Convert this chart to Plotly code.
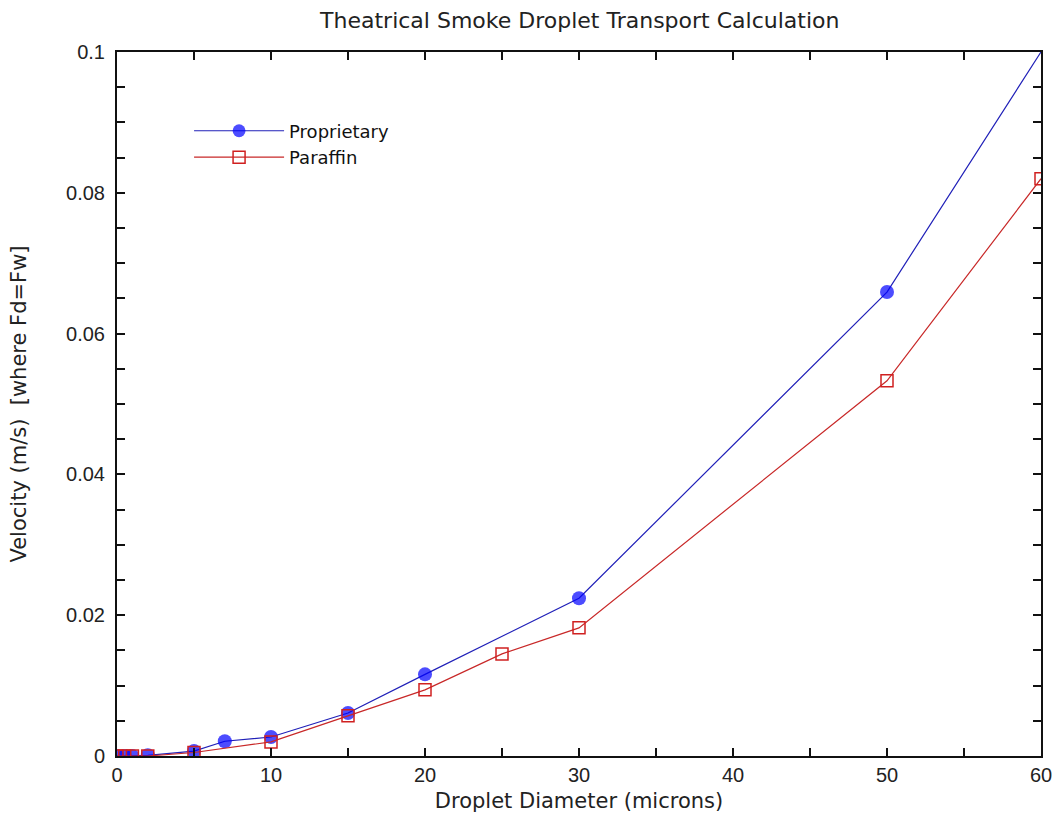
import plotly.graph_objects as go

prop_x = [0, 0.5, 1, 2, 5, 7, 10, 15, 20, 30, 50, 60]
prop_y = [0.0, 0.0, 0.0, 0.0001, 0.0007, 0.0021, 0.0027, 0.0061, 0.0116, 0.0224, 0.0659, 0.1]

par_x = [0, 0.5, 1, 2, 5, 10, 15, 20, 25, 30, 50, 60]
par_y = [0.0, 0.0, 0.0, 0.0, 0.0005, 0.002, 0.0057, 0.0094, 0.0145, 0.0182, 0.0533, 0.082]

title = "Theatrical Smoke Droplet Transport Calculation"
x_title = "Droplet Diameter (microns)"
y_title = "Velocity (m/s)  [where Fd=Fw]"

wide_font = "DejaVu Sans, Verdana, sans-serif"
tick_font = "Liberation Sans, Arial, Helvetica, sans-serif"

fig = go.Figure()
prop_sizes = [14] * (len(prop_x) - 1) + [0]
fig.add_trace(go.Scatter(
    x=prop_x, y=prop_y, name="Proprietary", mode="lines+markers",
    line=dict(color="#2020b8", width=1.2),
    marker=dict(symbol="circle", size=prop_sizes, color="#0000ff",
                line=dict(width=0)),
))
fig.add_trace(go.Scatter(
    x=par_x, y=par_y, name="Paraffin", mode="lines+markers",
    line=dict(color="#c82828", width=1.2),
    marker=dict(symbol="square-open", size=12, color="#d02020",
                line=dict(width=1.5)),
))

axis_common = dict(
    showline=True, linecolor="#111", linewidth=2, mirror="allticks",
    ticks="inside", ticklen=8, tickwidth=1.5, tickcolor="#111",
    showgrid=False, zeroline=False, automargin=False,
    tickfont=dict(size=20, color="#222", family=tick_font),
)

fig.update_xaxes(
    range=[0, 60], dtick=10, tick0=0,
    minor=dict(dtick=5, ticks="inside", ticklen=8, tickwidth=1.5, tickcolor="#111"),
    title=dict(text=x_title, font=dict(size=21, color="#222", family=wide_font), standoff=8),
    **axis_common,
)
fig.update_yaxes(
    range=[0, 0.1], dtick=0.02, tick0=0, ticklabelstandoff=6,
    minor=dict(dtick=0.005, ticks="inside", ticklen=8, tickwidth=1.5, tickcolor="#111"),
    title=dict(text=y_title, font=dict(size=21, color="#222", family=wide_font), standoff=34),
    **axis_common,
)

fig.update_layout(
    width=1056, height=827,
    margin=dict(l=117, r=15, t=52, b=71),
    paper_bgcolor="white", plot_bgcolor="white",
    title=dict(text=title, x=0.549, xanchor="center", y=0.976, yanchor="middle",
               font=dict(size=22, color="#222", family=wide_font)),
    legend=dict(x=0.078, y=0.914, xanchor="left", yanchor="top",
                bgcolor="rgba(0,0,0,0)", borderwidth=0,
                font=dict(size=18, color="#111", family=wide_font),
                itemwidth=90, tracegroupgap=0),
    showlegend=True,
)

fig.write_html("out.html")
